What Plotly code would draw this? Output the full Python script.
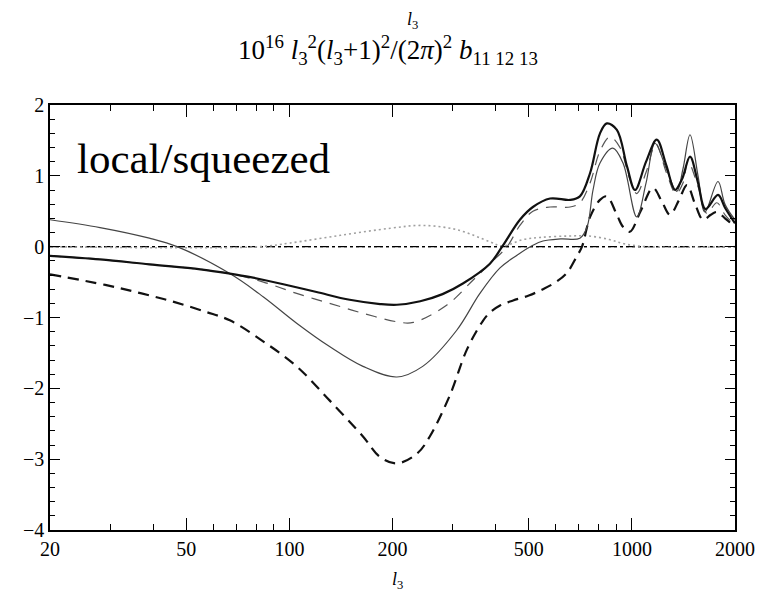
import plotly.graph_objects as go

# ---- data (l3 values, y values) ----
l_a = [20, 28, 39, 55, 67, 77, 96, 120, 150, 184, 206, 241, 280, 321, 385, 418, 471, 514, 577, 660, 705, 755, 807, 845, 904, 968, 1021, 1100, 1182, 1260, 1336, 1400, 1478, 1560, 1640, 1784, 1870, 2000]
y_a = [-0.13, -0.18, -0.25, -0.32, -0.38, -0.43, -0.53, -0.64, -0.75, -0.81, -0.82, -0.77, -0.67, -0.52, -0.24, 0.0, 0.38, 0.56, 0.68, 0.66, 0.71, 1.04, 1.60, 1.74, 1.65, 1.13, 0.80, 1.20, 1.51, 1.15, 0.80, 0.95, 1.27, 0.90, 0.53, 0.73, 0.55, 0.33]

l_b = [20, 28, 39, 47, 67, 84, 105, 131, 164, 206, 245, 308, 360, 412, 462, 514, 550, 620, 705, 740, 770, 807, 880, 942, 1033, 1100, 1168, 1260, 1352, 1410, 1478, 1560, 1634, 1784, 1870, 2000]
y_b = [0.38, 0.27, 0.12, 0.0, -0.38, -0.71, -1.08, -1.41, -1.69, -1.84, -1.69, -1.18, -0.66, -0.30, -0.12, 0.02, 0.08, 0.11, 0.12, 0.28, 0.80, 1.18, 1.39, 1.18, 0.42, 0.90, 1.46, 1.10, 0.78, 1.10, 1.58, 1.00, 0.49, 0.92, 0.60, 0.38]

l_c = [20, 28, 39, 55, 67, 84, 105, 131, 164, 206, 230, 289, 344, 385, 432, 471, 514, 577, 660, 705, 755, 807, 863, 923, 986, 1033, 1100, 1175, 1260, 1345, 1410, 1458, 1560, 1654, 1770, 1870, 2000]
y_c = [-0.13, -0.18, -0.25, -0.32, -0.38, -0.50, -0.66, -0.80, -0.94, -1.06, -1.07, -0.82, -0.47, -0.24, 0.0, 0.30, 0.50, 0.56, 0.56, 0.62, 0.90, 1.35, 1.55, 1.40, 0.95, 0.75, 1.05, 1.45, 1.05, 0.75, 0.90, 1.20, 0.85, 0.47, 0.62, 0.45, 0.30]

l_d = [20, 29, 37, 46, 57, 67, 84, 105, 131, 164, 184, 206, 236, 257, 294, 330, 367, 385, 412, 450, 500, 550, 600, 646, 690, 715, 755, 807, 845, 904, 942, 986, 1060, 1152, 1220, 1292, 1370, 1448, 1530, 1613, 1700, 1770, 1870, 2000]
y_d = [-0.39, -0.54, -0.66, -0.78, -0.92, -1.04, -1.34, -1.69, -2.17, -2.68, -2.97, -3.06, -2.92, -2.68, -2.10, -1.45, -1.05, -0.93, -0.83, -0.76, -0.69, -0.60, -0.50, -0.37, -0.14, 0.0, 0.42, 0.66, 0.71, 0.45, 0.28, 0.21, 0.50, 0.83, 0.65, 0.45, 0.65, 0.87, 0.60, 0.38, 0.45, 0.49, 0.40, 0.28]

l_e = [20, 82, 100, 141, 197, 245, 308, 385, 418, 481, 540, 650, 750, 860, 950, 1100, 2000]
y_e = [0.0, 0.0, 0.05, 0.16, 0.26, 0.30, 0.24, 0.07, 0.01, 0.10, 0.13, 0.15, 0.15, 0.10, 0.04, 0.0, 0.0]

l_f = [20, 2000]
y_f = [0.0, 0.0]

x_major = [20, 50, 100, 200, 500, 1000, 2000]
x_major_text = ["20", "50", "100", "200", "500", "1000", "2000"]
x_minor = [30, 40, 60, 70, 80, 90, 300, 400, 600, 700, 800, 900]
y_major = [-4, -3, -2, -1, 0, 1, 2]
y_major_text = ["\u22124", "\u22123", "\u22122", "\u22121", "0", "1", "2"]

FONT = "Liberation Serif"

fig = go.Figure()
fig.add_trace(go.Scatter(x=l_f, y=y_f, mode="lines",
                         line=dict(color="black", width=1.2, dash="dashdot")))
fig.add_trace(go.Scatter(x=l_f, y=y_f, mode="lines",
                         line=dict(color="black", width=1.2, dash="dot")))
fig.add_trace(go.Scatter(x=l_e, y=y_e, mode="lines", line_shape="spline",
                         line=dict(color="#a0a0a0", width=1.6, dash="2px,3px")))
fig.add_trace(go.Scatter(x=l_d, y=y_d, mode="lines", line_shape="spline",
                         line=dict(color="#111111", width=2.2, dash="11px,7px")))
fig.add_trace(go.Scatter(x=l_c, y=y_c, mode="lines", line_shape="spline",
                         line=dict(color="#555555", width=1.2, dash="11px,8px")))
fig.add_trace(go.Scatter(x=l_b, y=y_b, mode="lines", line_shape="spline",
                         line=dict(color="#444444", width=1.2)))
fig.add_trace(go.Scatter(x=l_a, y=y_a, mode="lines", line_shape="spline",
                         line=dict(color="#111111", width=2.2)))

fig.update_layout(
    width=773, height=603,
    margin=dict(l=50, r=38, t=105, b=73),
    paper_bgcolor="white", plot_bgcolor="white",
    showlegend=False,
    font=dict(family=FONT, size=20, color="black"),
)
fig.update_xaxes(
    type="log", range=[1.30103, 3.30103],
    showgrid=False, zeroline=False,
    showline=True, linecolor="black", linewidth=1.5, mirror="ticks",
    ticks="inside", ticklen=12, tickwidth=1.2, tickcolor="black",
    tickmode="array", tickvals=x_major, ticktext=x_major_text,
    minor=dict(tickmode="array", tickvals=x_minor, ticks="inside", ticklen=6,
               tickwidth=1, tickcolor="black", showgrid=False),
    tickfont=dict(family=FONT, size=20),
)
fig.update_yaxes(
    range=[-4, 2],
    showgrid=False, zeroline=False,
    showline=True, linecolor="black", linewidth=1.5, mirror="ticks",
    ticks="inside", ticklen=10, tickwidth=1.2, tickcolor="black",
    tickmode="array", tickvals=y_major, ticktext=y_major_text,
    minor=dict(dtick=0.2, tick0=0, ticks="inside", ticklen=5,
               tickwidth=1, tickcolor="black", showgrid=False),
    tickfont=dict(family=FONT, size=20),
)

fig.add_annotation(xref="paper", yref="paper", x=(75 - 50) / 685, y=(530 - 158) / 425,
                   xanchor="left", yanchor="middle", showarrow=False,
                   text="local/squeezed", font=dict(family=FONT, size=43, color="black"))
fig.add_annotation(xref="paper", yref="paper", x=(412 - 50) / 685, y=(530 - 20) / 425,
                   xanchor="center", yanchor="middle", showarrow=False,
                   text="<i>l</i><sub>3</sub>", font=dict(family=FONT, size=18, color="black"))
fig.add_annotation(xref="paper", yref="paper", x=(388 - 50) / 685, y=(530 - 50) / 425,
                   xanchor="center", yanchor="middle", showarrow=False,
                   text="10<sup>16</sup> <i>l</i><sub>3</sub><sup>2</sup>(<i>l</i><sub>3</sub>+1)<sup>2</sup>/(2<i>\u03c0</i>)<sup>2</sup> <i>b</i><sub>11 12 13</sub>",
                   font=dict(family=FONT, size=27, color="black"))
fig.add_annotation(xref="paper", yref="paper", x=(397 - 50) / 685, y=(530 - 580) / 425,
                   xanchor="center", yanchor="middle", showarrow=False,
                   text="<i>l</i><sub>3</sub>", font=dict(family=FONT, size=18, color="black"))

fig.write_html("out.html")
